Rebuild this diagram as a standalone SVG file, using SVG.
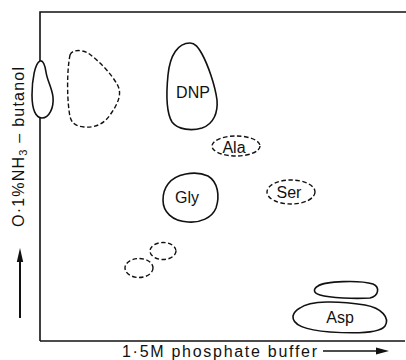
<svg xmlns="http://www.w3.org/2000/svg" width="406" height="360" viewBox="0 0 406 360">
<style>
.ax{stroke:#111;stroke-width:1.6;fill:none}
.solid{stroke:#111;stroke-width:1.6;fill:#fff}
.dash{stroke:#111;stroke-width:1.4;fill:#fff;stroke-dasharray:4.5 2.5}
text{font-family:"Liberation Sans","DejaVu Sans",sans-serif;fill:#111}
.lbl{font-size:16px;text-anchor:middle}
.axl{font-size:16px}
</style>
<g id="axes">
<path class="ax" d="M40,341 V12 H406"/>
<path class="ax" d="M40,341 H405"/>
</g>
<g id="connectors">
<line x1="20" y1="318" x2="20" y2="258" stroke="#111" stroke-width="2"/>
<polygon points="20,248 16.8,262 23.2,262" fill="#111"/>
<line x1="323" y1="351" x2="378" y2="351" stroke="#111" stroke-width="1.6"/>
<polygon points="389,351 376,347.5 376,354.5" fill="#111"/>
</g>
<g id="spot-left">
<path class="solid" d="M40,61 C35,63 32,80 32,95 C32,110 36,118 42,118 C49,118 54,108 53,97 C52,88 47,80 46,72 C45,65 43,60 40,61 Z"/>
</g>
<g id="spot-d">
<path class="dash" d="M70,55 C72,50 80,49 88,53 C98,60 112,74 118,86 C122,94 118,104 110,115 C104,124 95,128 84,127 C72,126 70,120 69,110 C67,95 67,70 70,55 Z"/>
</g>
<g id="DNP">
<path class="solid" d="M190,43 C178,43 170,55 168,75 C166,95 166,112 172,122 C178,130 192,131 202,128 C214,124 218,112 217,100 C215,85 208,65 202,54 C198,47 195,43 190,43 Z"/>
<text class="lbl" x="193" y="98">DNP</text>
</g>
<g id="Ala">
<ellipse class="dash" cx="236" cy="146" rx="24" ry="10"/>
<text class="lbl" x="234" y="153">Ala</text>
</g>
<g id="Gly">
<path class="solid" d="M168,184 C175,174 195,170 208,176 C218,182 220,196 216,208 C212,218 200,223 188,222 C172,221 163,212 163,200 C163,193 165,188 168,184 Z"/>
<text class="lbl" x="187" y="203">Gly</text>
</g>
<g id="Ser">
<ellipse class="dash" cx="291" cy="192" rx="24" ry="12"/>
<text class="lbl" x="289" y="198">Ser</text>
</g>
<g id="spot-small-1">
<ellipse class="dash" cx="163" cy="251" rx="13" ry="8.5"/>
</g>
<g id="spot-small-2">
<ellipse class="dash" cx="139" cy="268" rx="14" ry="9.5"/>
</g>
<g id="spot-asp-upper">
<path class="solid" d="M318,286 C325,281 360,280 373,284 C380,287 379,296 370,298 C355,299 330,298 320,295 C313,293 313,289 318,286 Z"/>
</g>
<g id="Asp">
<path class="solid" d="M300,308 C310,300 340,301 365,305 C382,308 390,318 385,326 C380,333 360,334 330,332 C305,330 292,325 293,316 C294,312 296,310 300,308 Z"/>
<text class="lbl" x="340" y="323">Asp</text>
</g>
<g id="labels">
<text class="axl" transform="translate(24,227) rotate(-90)" x="0" y="0" textLength="160" lengthAdjust="spacing">O·1%NH<tspan font-size="11" dy="3">3</tspan><tspan dy="-3"> – butanol</tspan></text>
<text class="axl" x="122" y="357" textLength="195" lengthAdjust="spacing">1·5M  phosphate buffer</text>
</g>
</svg>
